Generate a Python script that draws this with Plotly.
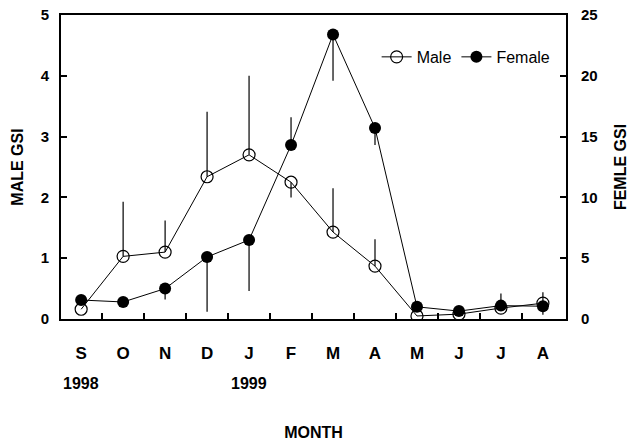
import plotly.graph_objects as go

months = ["S", "O", "N", "D", "J", "F", "M", "A", "M", "J", "J", "A"]

male_gsi = [0.16, 1.03, 1.10, 2.34, 2.70, 2.25, 1.43, 0.87, 0.05, 0.08, 0.18, 0.26]
male_err_up = [0, 0.90, 0.52, 1.07, 1.30, 0, 0.72, 0.44, 0, 0, 0, 0.18]
male_err_down = [0, 0, 0, 0, 0, 0.25, 0, 0, 0, 0, 0, 0]

female_gsi = [1.56, 1.40, 2.50, 5.10, 6.50, 14.3, 23.4, 15.7, 1.0, 0.65, 1.10, 1.05]
female_err_up = [0, 0, 0, 0, 0, 2.3, 0, 0, 0, 0, 1.0, 0]
female_err_down = [0, 0, 0.9, 4.5, 4.2, 0, 3.8, 1.4, 0, 0, 0, 0.7]

year_labels = ["1998", "1999"]
year_month_index = [0, 4]

FONT = "Arial, Liberation Sans, sans-serif"

xpos = list(range(len(months)))
xrange = [-0.48, 11.55]

fig = go.Figure()

fig.add_trace(go.Scatter(
    x=xpos, y=male_gsi, name="Male", mode="lines+markers",
    line=dict(color="black", width=1),
    marker=dict(symbol="circle-open", size=12, color="black", line=dict(width=1.2)),
    error_y=dict(type="data", symmetric=False, array=male_err_up, arrayminus=male_err_down,
                 color="black", thickness=1.2, width=0),
))
fig.add_trace(go.Scatter(
    x=xpos, y=female_gsi, name="Female", mode="lines+markers", yaxis="y2",
    line=dict(color="black", width=1),
    marker=dict(symbol="circle", size=12, color="black"),
    error_y=dict(type="data", symmetric=False, array=female_err_up, arrayminus=female_err_down,
                 color="black", thickness=1.2, width=0),
))

for lbl, idx in zip(year_labels, year_month_index):
    fig.add_annotation(x=idx, xref="x", y=-0.213, yref="paper", text=lbl, showarrow=False,
                       font=dict(family=FONT, size=16, color="black", weight="bold"),
                       yanchor="middle")

fig.update_layout(
    width=638, height=446,
    margin=dict(l=61, r=72, t=15, b=127),
    paper_bgcolor="white", plot_bgcolor="white",
    font=dict(family=FONT, color="black"),
    showlegend=True,
    legend=dict(orientation="h", x=0.625, y=0.862, xanchor="left", yanchor="middle",
                font=dict(family=FONT, size=16, color="black"), bgcolor="rgba(0,0,0,0)",
                itemwidth=30, tracegroupgap=0),
    xaxis=dict(
        range=xrange, automargin=False,
        tickvals=xpos, ticktext=months, ticks="",
        showline=True, linecolor="black", linewidth=2, mirror=True,
        showgrid=False, zeroline=False,
        tickfont=dict(family=FONT, size=17, color="black", weight="bold"),
        ticklabelstandoff=18,
        title=dict(text="MONTH", font=dict(family=FONT, size=16, color="black", weight="bold"),
                   standoff=64),
    ),
    xaxis2=dict(
        range=xrange, overlaying="x", side="bottom", matches="x", automargin=False,
        tickvals=[i + 0.5 for i in xpos[:-1]], ticks="inside", ticklen=6,
        tickcolor="black", tickwidth=1.5, showticklabels=False,
        showline=False, showgrid=False, zeroline=False,
    ),
    yaxis=dict(
        range=[0, 5], tickvals=[0, 1, 2, 3, 4, 5], automargin=False,
        ticks="inside", ticklen=6, tickcolor="black", tickwidth=1.5,
        showline=True, linecolor="black", linewidth=2,
        showgrid=False, zeroline=False,
        tickfont=dict(family=FONT, size=15, color="black", weight="bold"),
        ticklabelstandoff=7,
        title=dict(text="MALE GSI", font=dict(family=FONT, size=16, color="black", weight="bold"),
                   standoff=13),
    ),
    yaxis2=dict(
        range=[0, 25], tickvals=[0, 5, 10, 15, 20, 25], overlaying="y", side="right",
        automargin=False,
        ticks="inside", ticklen=6, tickcolor="black", tickwidth=1.5,
        showline=True, linecolor="black", linewidth=2,
        showgrid=False, zeroline=False,
        tickfont=dict(family=FONT, size=15, color="black", weight="bold"),
        ticklabelstandoff=10,
        title=dict(text="FEMLE GSI", font=dict(family=FONT, size=16, color="black", weight="bold"),
                   standoff=18),
    ),
)

# invisible trace so the tick-only overlay axis is drawn
fig.add_trace(go.Scatter(x=[xpos[0]], y=[male_gsi[0]], xaxis="x2", mode="markers",
                         marker=dict(opacity=0), showlegend=False, hoverinfo="skip"))

fig.write_html("out.html", config={"displayModeBar": False},
               post_script="document.body.style.margin='0';")
